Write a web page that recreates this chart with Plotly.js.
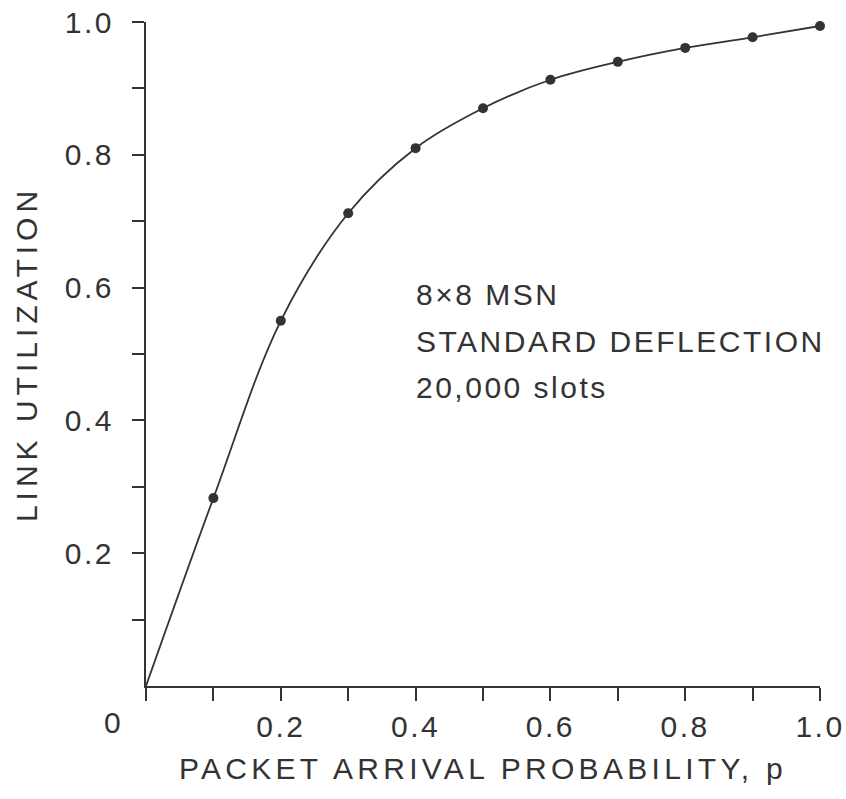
<!DOCTYPE html>
<html>
<head>
<meta charset="utf-8">
<script src="https://cdn.plot.ly/plotly-3.0.1.min.js"></script>
<style>
  html, body { margin: 0; padding: 0; background: #fff; }
  #chart { width: 846px; height: 799px; }
  .xtitle { letter-spacing: 4.3px; }
  .ytitle { letter-spacing: 5px; }
  .xtick text, .ytick text { letter-spacing: 2.5px; }
  .annotation-text { letter-spacing: 2.5px; }
</style>
</head>
<body>
<div id="chart"></div>
<script>
// Packet arrival probability p
const p = [0.1, 0.2, 0.3, 0.4, 0.5, 0.6, 0.7, 0.8, 0.9, 1.0];
// Link utilization (simulated points)
const utilization = [0.283, 0.550, 0.712, 0.810, 0.870, 0.913, 0.940, 0.961, 0.977, 0.994];
// Curve starts at the origin
const curveX = [0].concat(p);
const curveY = [0].concat(utilization);

const yTickVals = [0.1, 0.2, 0.3, 0.4, 0.5, 0.6, 0.7, 0.8, 0.9, 1.0];
const yTickText = ["", "0.2", "", "0.4", "", "0.6", "", "0.8", "", "1.0"];
const xTickVals = [0, 0.1, 0.2, 0.3, 0.4, 0.5, 0.6, 0.7, 0.8, 0.9, 1.0];
const xTickText = ["", "", "0.2", "", "0.4", "", "0.6", "", "0.8", "", "1.0"];
const legendLines = ["8\u00d78 MSN", "STANDARD DEFLECTION", "20,000 slots"];

const ink = "#333333";
const fontFamily = "'Liberation Sans', Arial, sans-serif";

const traces = [
  {
    x: curveX, y: curveY, mode: "lines", type: "scatter",
    line: { color: ink, width: 1.8, shape: "spline", smoothing: 1.0 },
    hoverinfo: "skip", showlegend: false, cliponaxis: false
  },
  {
    x: p, y: utilization, mode: "markers", type: "scatter",
    marker: { color: ink, size: 10 },
    showlegend: false, cliponaxis: false
  }
];

const annotations = legendLines.map((t, i) => ({
  xref: "paper", yref: "paper",
  x: 0.397, y: 0.589 - i * 0.070,
  xanchor: "left", yanchor: "middle",
  text: t, showarrow: false,
  font: { family: fontFamily, size: 30, color: ink }
}));
annotations.push({
  xref: "x", yref: "y", x: 0, y: 0,
  xanchor: "center", yanchor: "middle",
  xshift: -33, yshift: -36,
  text: "0", showarrow: false,
  font: { family: fontFamily, size: 30, color: ink }
});

const layout = {
  width: 846, height: 799,
  margin: { l: 146, r: 26, t: 22, b: 113 },
  paper_bgcolor: "#ffffff", plot_bgcolor: "#ffffff",
  showlegend: false,
  font: { family: fontFamily, color: ink },
  xaxis: {
    range: [0, 1.0], showgrid: false, zeroline: false,
    showline: true, linecolor: ink, linewidth: 2,
    ticks: "outside", ticklen: 13, tickwidth: 2, tickcolor: ink,
    tickmode: "array", tickvals: xTickVals, ticktext: xTickText,
    tickfont: { family: fontFamily, size: 30, color: ink },
    ticklabelstandoff: 0,
    title: { text: "PACKET ARRIVAL PROBABILITY, p", font: { family: fontFamily, size: 30, color: ink }, standoff: 16 }
  },
  yaxis: {
    range: [0, 1.0], showgrid: false, zeroline: false,
    showline: true, linecolor: ink, linewidth: 2,
    ticks: "outside", ticklen: 12, tickwidth: 2, tickcolor: ink,
    tickmode: "array", tickvals: yTickVals, ticktext: yTickText,
    tickfont: { family: fontFamily, size: 30, color: ink },
    ticklabelstandoff: 12,
    title: { text: "LINK UTILIZATION", font: { family: fontFamily, size: 30, color: ink }, standoff: 18 }
  },
  annotations: annotations
};

Plotly.newPlot("chart", traces, layout, { displayModeBar: false, staticPlot: true });
</script>
</body>
</html>
